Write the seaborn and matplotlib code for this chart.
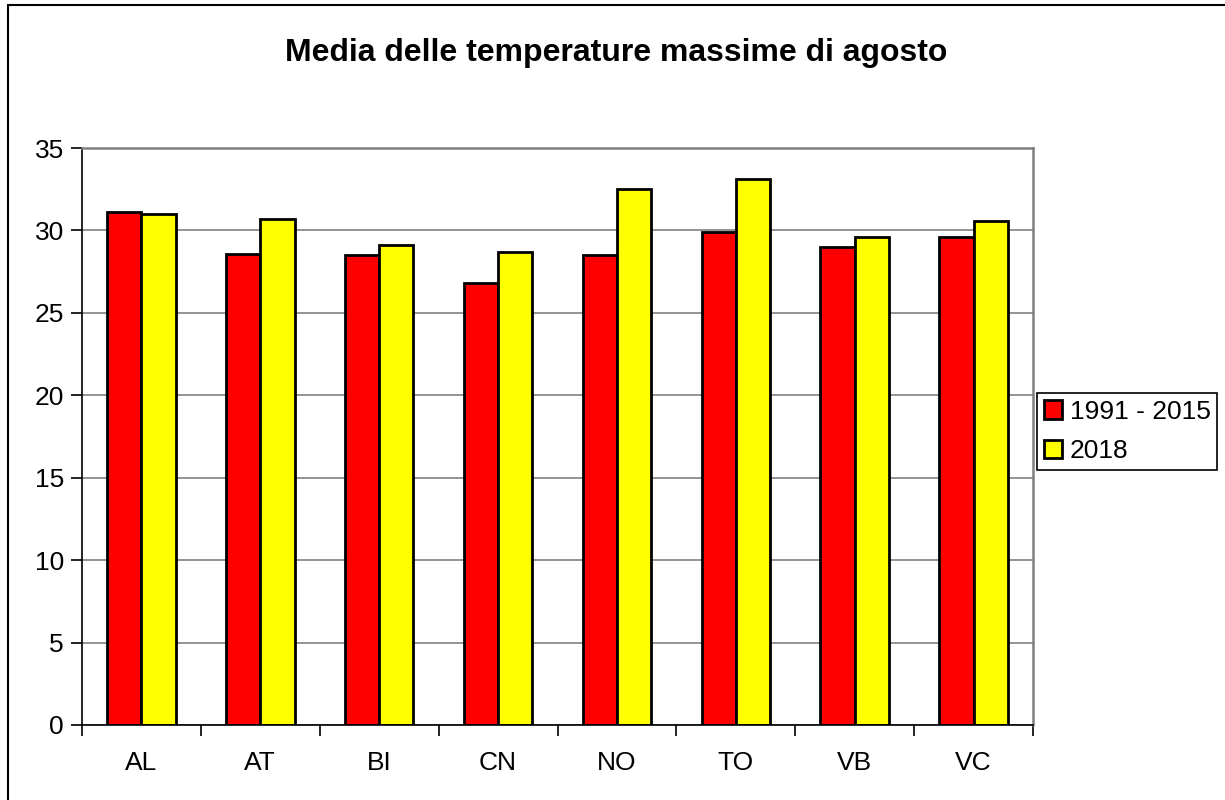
import matplotlib
matplotlib.use("Agg")
import matplotlib.pyplot as plt
from matplotlib.lines import Line2D
from matplotlib.patches import Patch
import seaborn as sns
import pandas as pd

categories = ["AL", "AT", "BI", "CN", "NO", "TO", "VB", "VC"]
series_names = ["1991 - 2015", "2018"]
values_1991_2015 = [31.1, 28.6, 28.5, 26.8, 28.5, 29.9, 29.0, 29.6]
values_2018 = [31.0, 30.7, 29.1, 28.7, 32.5, 33.1, 29.6, 30.6]
colors = ["#FF0000", "#FFFF00"]
yticks = [0, 5, 10, 15, 20, 25, 30, 35]

df = pd.DataFrame({
    "cat": categories * 2,
    "series": [series_names[0]] * len(categories) + [series_names[1]] * len(categories),
    "val": values_1991_2015 + values_2018,
})

sns.set_theme(style="white")
plt.rcParams["font.family"] = ["Liberation Sans", "DejaVu Sans"]
plt.rcParams["text.color"] = "black"
plt.rcParams["xtick.color"] = "black"
plt.rcParams["ytick.color"] = "black"
plt.rcParams["axes.labelcolor"] = "black"

W, H = 1225, 800
fig = plt.figure(figsize=(W / 100, H / 100), dpi=100)
ax = fig.add_axes([82 / W, 1 - 725 / H, (1033 - 82) / W, (725 - 148) / H])

sns.barplot(data=df, x="cat", y="val", hue="series", order=categories,
            hue_order=series_names, palette=colors, width=0.577, gap=0,
            edgecolor="black", linewidth=2.0, saturation=1, ax=ax, legend=False,
            errorbar=None)

ax.set_ylim(0, 35)
ax.set_yticks(yticks)
ax.set_xlim(-0.5, len(categories) - 0.5)
ax.yaxis.grid(True, color="#808080", linewidth=1.2)
ax.set_axisbelow(True)
ax.set_xlabel("")
ax.set_ylabel("")

for s in ["top", "right"]:
    ax.spines[s].set_visible(True)
    ax.spines[s].set_color("#808080")
    ax.spines[s].set_linewidth(1.8)
for s in ["left", "bottom"]:
    ax.spines[s].set_visible(True)
    ax.spines[s].set_color("black")
    ax.spines[s].set_linewidth(1.2)

ax.tick_params(axis="y", which="major", left=True, length=8, width=1.2,
               color="black", labelsize=19, pad=5, labelcolor="black")
ax.tick_params(axis="x", which="major", bottom=False, labelsize=19, pad=13,
               labelcolor="black")
ax.set_xticks(range(len(categories)))
ax.set_xticklabels(categories)
ax.set_xticks([i - 0.5 for i in range(len(categories) + 1)], minor=True)
ax.tick_params(axis="x", which="minor", bottom=True, length=8, width=1.2,
               color="black", direction="out")

fig.text(616 / W, 1 - 61 / H, "Media delle temperature massime di agosto",
         ha="center", va="baseline", fontsize=23, fontweight="bold",
         color="black")

handles = [Patch(facecolor=c, edgecolor="black", linewidth=2.0) for c in colors]
leg = fig.legend(handles, series_names, loc="upper left",
                 bbox_to_anchor=(1037 / W, 1 - 393 / H), fontsize=19,
                 frameon=True, fancybox=False, handlelength=0.7,
                 handleheight=0.7, handletextpad=0.3, labelspacing=0.6,
                 borderpad=0.25, borderaxespad=0)
leg.get_frame().set_edgecolor("black")
leg.get_frame().set_linewidth(1.2)
leg.get_frame().set_alpha(1)
for t in leg.get_texts():
    t.set_color("black")

fig.add_artist(Line2D([8 / W, 1], [1 - 5 / H, 1 - 5 / H], color="black",
                      linewidth=1.5, transform=fig.transFigure))
fig.add_artist(Line2D([8 / W, 8 / W], [1 - 5 / H, 0], color="black",
                      linewidth=1.5, transform=fig.transFigure))

fig.savefig("out.png", dpi=100, facecolor="white")
